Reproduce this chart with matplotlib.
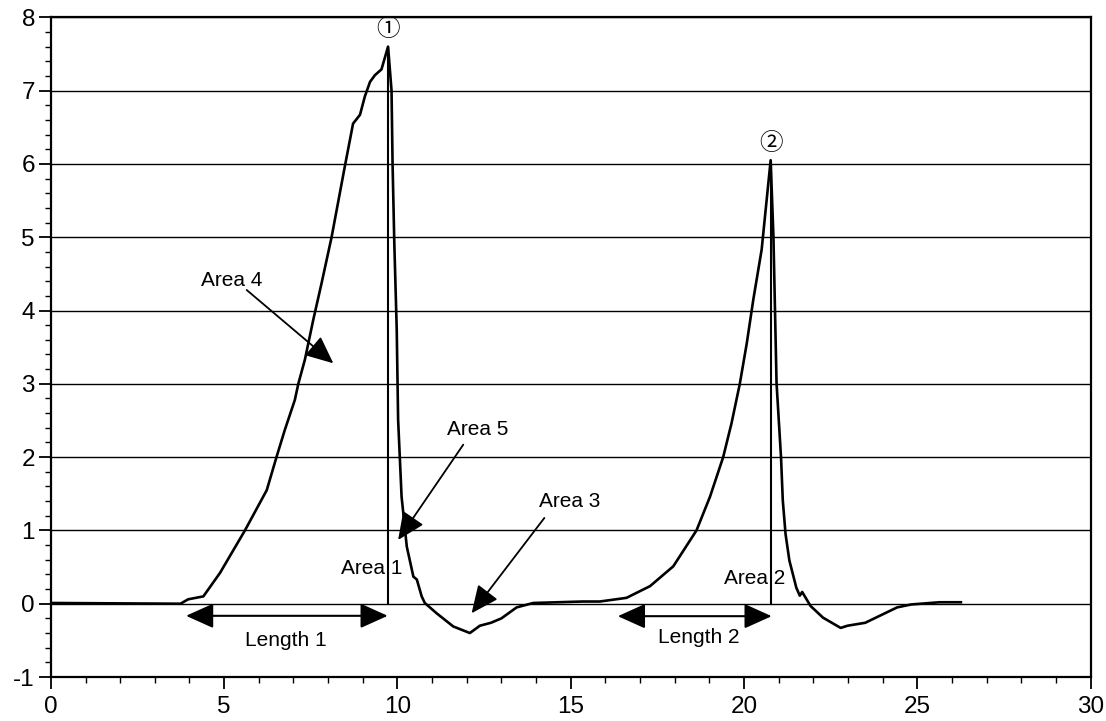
import matplotlib
matplotlib.use("Agg")
import matplotlib.pyplot as plt
from matplotlib.ticker import MultipleLocator

# ---- data ----
x_vals = [0.0, 3.74, 3.96, 4.40, 4.88, 5.60, 6.23, 6.51, 6.75, 7.04, 7.14, 7.33,
          7.57, 7.81, 8.10, 8.48, 8.72, 8.92, 9.06, 9.21, 9.35, 9.54, 9.73,
          9.83, 9.86, 9.91, 9.98, 10.02, 10.12, 10.27, 10.46, 10.56, 10.70,
          10.79, 11.13, 11.61, 12.09, 12.38, 12.70, 13.00, 13.44, 13.92,
          15.34, 15.84, 16.61, 17.29, 17.96, 18.63, 19.02, 19.40, 19.64,
          19.88, 20.08, 20.27, 20.51, 20.77, 20.85, 20.94, 21.07, 21.12,
          21.20, 21.31, 21.51, 21.61, 21.68, 21.92, 22.28, 22.79, 22.99,
          23.50, 24.42, 24.83, 25.64, 26.26]
y_vals = [0.01, 0.0, 0.06, 0.10, 0.42, 1.00, 1.55, 2.00, 2.37, 2.78, 3.00, 3.33,
          3.87, 4.37, 5.00, 5.96, 6.55, 6.67, 6.92, 7.12, 7.21, 7.29, 7.60,
          7.00, 6.00, 4.92, 3.74, 2.51, 1.46, 0.78, 0.37, 0.33, 0.10,
          0.01, -0.13, -0.31, -0.40, -0.30, -0.26, -0.20, -0.05, 0.01,
          0.03, 0.03, 0.08, 0.24, 0.51, 1.00, 1.46, 2.00, 2.46,
          3.00, 3.55, 4.15, 4.83, 6.05, 5.01, 3.01, 1.99, 1.41,
          0.95, 0.59, 0.22, 0.11, 0.16, -0.03, -0.19, -0.33, -0.30,
          -0.26, -0.05, -0.01, 0.02, 0.02]

peak_x = [9.73, 20.77]
peak_y = [7.60, 6.05]
peak_labels = ["\u2460", "\u2461"]

area_labels = ["Area 4", "Area 5", "Area 3"]
area_text_pos = [(5.21, 4.41), (12.33, 2.37), (14.98, 1.40)]
area_arrow_tail = [(5.65, 4.28), (11.90, 2.17), (14.24, 1.17)]
area_arrow_head = [(8.15, 3.28), (10.02, 0.87), (12.14, -0.13)]

inline_labels = ["Area 1", "Area 2"]
inline_pos = [(9.27, 0.48), (20.30, 0.34)]

length_labels = ["Length 1", "Length 2"]
length_start = [3.90, 16.36]
length_end = [9.72, 20.80]
length_y = [-0.165, -0.17]
length_text_pos = [(6.78, -0.50), (18.70, -0.46)]

x_ticks = [0, 5, 10, 15, 20, 25, 30]
y_ticks = [-1, 0, 1, 2, 3, 4, 5, 6, 7, 8]

# ---- plot ----
plt.rcParams['font.family'] = ['Liberation Sans', 'DejaVu Sans', 'Noto Sans CJK SC']
fig = plt.figure(figsize=(11.06, 7.21), dpi=100)
ax = fig.add_axes([0.046, 0.061, 0.940, 0.915])

for yv in y_ticks:
    ax.axhline(yv, color='black', lw=1.0, zorder=1)

ax.plot(x_vals, y_vals, color='black', lw=1.9, zorder=3)
ax.vlines(peak_x, 0, peak_y, color='black', lw=1.5, zorder=3)

for px, py, lab in zip(peak_x, peak_y, peak_labels):
    ax.text(px, py + 0.23, lab, ha='center', va='center', fontsize=17,
            family=['Noto Sans CJK JP', 'DejaVu Sans'])

arrow_kw = dict(arrowstyle='-|>,head_length=1.0,head_width=0.45',
                color='black', lw=1.3, mutation_scale=17, shrinkA=0, shrinkB=0)
for lab, tp, tail, head in zip(area_labels, area_text_pos, area_arrow_tail, area_arrow_head):
    ax.text(tp[0], tp[1], lab, ha='center', va='center', fontsize=15)
    ax.annotate('', xy=head, xytext=tail, arrowprops=arrow_kw)

for lab, p in zip(inline_labels, inline_pos):
    ax.text(p[0], p[1], lab, ha='center', va='center', fontsize=15)

darrow_kw = dict(arrowstyle='<|-|>,head_length=1.0,head_width=0.45',
                 color='black', lw=1.5, mutation_scale=17, shrinkA=0, shrinkB=0)
for lab, xs, xe, yy, tp in zip(length_labels, length_start, length_end, length_y, length_text_pos):
    ax.annotate('', xy=(xe, yy), xytext=(xs, yy), arrowprops=darrow_kw)
    ax.text(tp[0], tp[1], lab, ha='center', va='center', fontsize=15)

ax.set_xlim(0, 30)
ax.set_ylim(-1, 8)
ax.set_xticks(x_ticks)
ax.set_yticks(y_ticks)
ax.xaxis.set_minor_locator(MultipleLocator(1))
ax.yaxis.set_minor_locator(MultipleLocator(0.2))
ax.tick_params(axis='both', which='major', direction='out', length=8.5, width=1.3,
               labelsize=17.5, color='black')
ax.tick_params(axis='x', which='major', pad=5)
ax.tick_params(axis='y', which='major', pad=3)
ax.tick_params(axis='both', which='minor', direction='out', length=4, width=1.0)
for s in ax.spines.values():
    s.set_linewidth(1.6)
    s.set_color('black')
ax.set_yticklabels([str(v) for v in y_ticks])

fig.savefig('out.png', dpi=100)
